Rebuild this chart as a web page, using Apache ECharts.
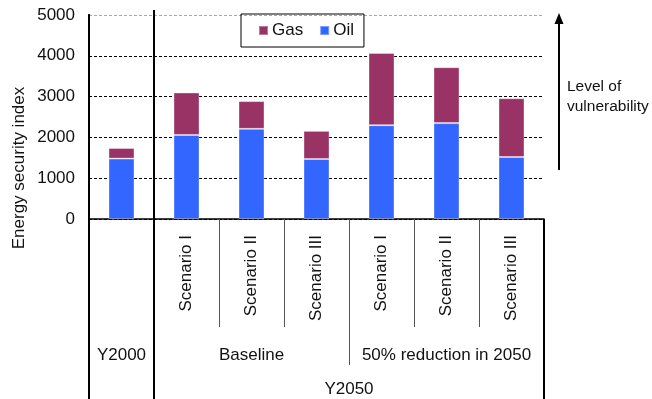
<!DOCTYPE html>
<html>
<head>
<meta charset="utf-8">
<script src="https://cdn.jsdelivr.net/npm/echarts@6/dist/echarts.min.js"></script>
<style>
  html, body { margin: 0; padding: 0; background: #fff; }
  #chart { width: 652px; height: 399px; }
</style>
</head>
<body>
<div id="chart"></div>
<script>
// values
const scenarioLabels = ['', 'Scenario I', 'Scenario II', 'Scenario III', 'Scenario I', 'Scenario II', 'Scenario III']
const oilValues = [1480, 2060, 2210, 1470, 2300, 2350, 1520]
const gasValues = [260, 1040, 680, 690, 1770, 1370, 1440]
const groupLabels = ['Y2000', 'Baseline', '50% reduction in 2050']
const groupCenters = [0.5, 2.5, 5.5]
const periodLabels = ['Y2050']
const periodCenters = [4]
const thinSeparators = [2, 3, 5, 6]
const midSeparators = [4]
const thickSeparators = [0, 1, 7]

const FONT = 'Liberation Sans'
const TEXT = '#111'

const chart = echarts.init(document.getElementById('chart'))

function hiddenValueAxis(extra) {
  return Object.assign({
    type: 'value',
    position: 'bottom',
    min: 0,
    max: scenarioLabels.length,
    offset: 0,
    axisLine: { show: false },
    splitLine: { show: false },
    axisTick: { show: false },
    axisLabel: { show: false }
  }, extra)
}

const option = {
  animation: false,
  textStyle: { fontFamily: FONT, color: TEXT },
  grid: { left: 89, right: 108, top: 15, bottom: 180 },
  legend: {
    data: ['Gas', 'Oil'],
    icon: 'rect',
    left: 241,
    top: 14,
    padding: [8, 10, 8, 17],
    itemGap: 16,
    itemWidth: 9,
    itemHeight: 9,
    borderColor: '#000',
    borderWidth: 1,
    textStyle: { fontFamily: FONT, fontSize: 17, color: TEXT, padding: [0, 0, 0, -1] }
  },
  xAxis: [
    {
      type: 'category',
      data: scenarioLabels,
      position: 'bottom',
      axisLine: { lineStyle: { color: '#000', width: 1.5 } },
      axisTick: { show: false },
      axisLabel: { rotate: 90, margin: 16, fontSize: 17, color: TEXT, fontFamily: FONT, interval: 0 }
    },
    hiddenValueAxis({
      axisTick: { show: true, customValues: thinSeparators, length: 108, lineStyle: { color: '#555', width: 1 } },
      axisLabel: {
        show: true, customValues: groupCenters, margin: 128, fontSize: 17, color: TEXT, fontFamily: FONT,
        formatter: v => groupLabels[groupCenters.indexOf(v)] || ''
      }
    }),
    hiddenValueAxis({
      axisTick: { show: true, customValues: midSeparators, length: 146, lineStyle: { color: '#555', width: 1 } },
      axisLabel: {
        show: true, customValues: periodCenters, margin: 162, fontSize: 17, color: TEXT, fontFamily: FONT,
        formatter: v => periodLabels[periodCenters.indexOf(v)] || ''
      }
    }),
    hiddenValueAxis({
      axisTick: { show: true, customValues: thickSeparators, length: 185, lineStyle: { color: '#000', width: 2 } }
    }),
    hiddenValueAxis({
      axisTick: { show: true, customValues: [1], inside: true, length: 209, lineStyle: { color: '#000', width: 2 } }
    })
  ],
  yAxis: [
    {
      type: 'value',
      min: 0,
      max: 5000,
      interval: 1000,
      axisLine: { show: true, lineStyle: { color: '#000', width: 2 } },
      axisTick: { show: false },
      axisLabel: { margin: 14, fontSize: 17, color: TEXT, fontFamily: FONT, formatter: v => String(v) },
      splitLine: {
        lineStyle: { color: ['#000', '#000', '#000', '#000', '#000', '#aaa'], type: [3, 2], width: 1 }
      }
    },
    {
      type: 'value',
      position: 'right',
      min: 0,
      max: 5000,
      axisLine: { show: true, lineStyle: { color: '#000', width: 2 } },
      axisTick: { show: false },
      axisLabel: { show: false },
      splitLine: { show: false }
    }
  ],
  series: [
    {
      name: 'Oil',
      type: 'bar',
      stack: 'energy',
      xAxisIndex: 0,
      yAxisIndex: 0,
      barWidth: 26,
      itemStyle: { color: '#3366FF', borderColor: 'rgba(255,255,255,0.35)', borderWidth: 1 },
      data: oilValues
    },
    {
      name: 'Gas',
      type: 'bar',
      stack: 'energy',
      xAxisIndex: 0,
      yAxisIndex: 0,
      barWidth: 26,
      itemStyle: { color: '#993366', borderColor: 'rgba(255,255,255,0.35)', borderWidth: 1 },
      data: gasValues
    }
  ],
  graphic: [
    {
      type: 'text',
      x: 19,
      y: 168,
      rotation: Math.PI / 2,
      style: {
        text: 'Energy security index',
        fontFamily: FONT,
        fontSize: 17,
        fill: TEXT,
        textAlign: 'center',
        textVerticalAlign: 'middle'
      }
    },
    {
      type: 'line',
      shape: { x1: 559, y1: 170, x2: 559, y2: 22 },
      style: { stroke: '#000', lineWidth: 2 }
    },
    {
      type: 'polygon',
      shape: { points: [[554.5, 24], [563.5, 24], [559, 13]] },
      style: { fill: '#000' }
    },
    {
      type: 'text',
      x: 567,
      y: 77,
      style: {
        text: 'Level of\nvulnerability',
        fontFamily: FONT,
        fontSize: 15.5,
        lineHeight: 20,
        fill: TEXT
      }
    }
  ]
}

chart.setOption(option)
</script>
</body>
</html>
